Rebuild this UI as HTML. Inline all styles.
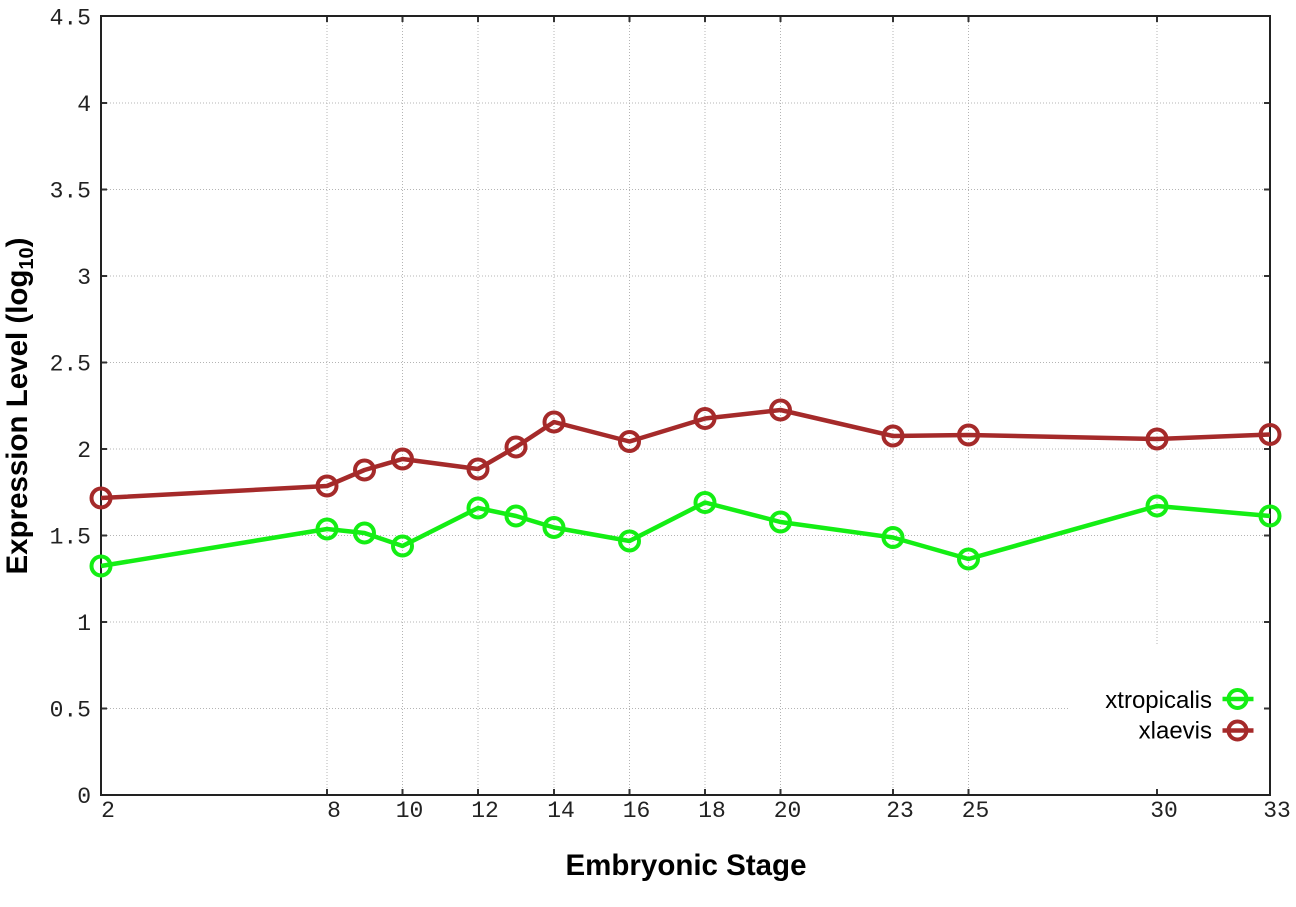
<!DOCTYPE html>
<html>
<head>
<meta charset="utf-8">
<style>
html,body{margin:0;padding:0;background:#fff;}
svg{display:block;}
.tk{font-family:"Liberation Mono","DejaVu Sans Mono",monospace;font-size:23px;fill:#222;}
.lab{font-family:"Liberation Sans",Arial,sans-serif;font-weight:bold;font-size:29.5px;fill:#000;}
.leg{font-family:"Liberation Sans",Arial,sans-serif;font-size:24px;fill:#000;}
</style>
</head>
<body>
<svg width="1296" height="907" viewBox="0 0 1296 907" xmlns="http://www.w3.org/2000/svg">
<rect x="0" y="0" width="1296" height="907" fill="#fff"/>
<!-- grid -->
<g stroke="#b4b4b4" stroke-width="1" stroke-dasharray="1,2" fill="none">
  <line x1="101" y1="708.5" x2="1270" y2="708.5"/>
  <line x1="101" y1="622" x2="1270" y2="622"/>
  <line x1="101" y1="535.5" x2="1270" y2="535.5"/>
  <line x1="101" y1="449" x2="1270" y2="449"/>
  <line x1="101" y1="362.5" x2="1270" y2="362.5"/>
  <line x1="101" y1="276" x2="1270" y2="276"/>
  <line x1="101" y1="189.5" x2="1270" y2="189.5"/>
  <line x1="101" y1="103" x2="1270" y2="103"/>
  <line x1="327" y1="16" x2="327" y2="795"/>
  <line x1="402.5" y1="16" x2="402.5" y2="795"/>
  <line x1="478" y1="16" x2="478" y2="795"/>
  <line x1="554" y1="16" x2="554" y2="795"/>
  <line x1="629.5" y1="16" x2="629.5" y2="795"/>
  <line x1="705" y1="16" x2="705" y2="795"/>
  <line x1="780.5" y1="16" x2="780.5" y2="795"/>
  <line x1="893" y1="16" x2="893" y2="795"/>
  <line x1="968.5" y1="16" x2="968.5" y2="795"/>
  <line x1="1157" y1="16" x2="1157" y2="795"/>
</g>
<!-- legend box background -->
<rect x="1070" y="645" width="200" height="150" fill="#fff"/>
<!-- ticks -->
<g stroke="#333" stroke-width="2">
  <line x1="101" y1="708.5" x2="107" y2="708.5"/><line x1="1270" y1="708.5" x2="1264" y2="708.5"/>
  <line x1="101" y1="622" x2="107" y2="622"/><line x1="1270" y1="622" x2="1264" y2="622"/>
  <line x1="101" y1="535.5" x2="107" y2="535.5"/><line x1="1270" y1="535.5" x2="1264" y2="535.5"/>
  <line x1="101" y1="449" x2="107" y2="449"/><line x1="1270" y1="449" x2="1264" y2="449"/>
  <line x1="101" y1="362.5" x2="107" y2="362.5"/><line x1="1270" y1="362.5" x2="1264" y2="362.5"/>
  <line x1="101" y1="276" x2="107" y2="276"/><line x1="1270" y1="276" x2="1264" y2="276"/>
  <line x1="101" y1="189.5" x2="107" y2="189.5"/><line x1="1270" y1="189.5" x2="1264" y2="189.5"/>
  <line x1="101" y1="103" x2="107" y2="103"/><line x1="1270" y1="103" x2="1264" y2="103"/>
  <line x1="327" y1="795" x2="327" y2="789"/><line x1="327" y1="16" x2="327" y2="22"/>
  <line x1="402.5" y1="795" x2="402.5" y2="789"/><line x1="402.5" y1="16" x2="402.5" y2="22"/>
  <line x1="478" y1="795" x2="478" y2="789"/><line x1="478" y1="16" x2="478" y2="22"/>
  <line x1="554" y1="795" x2="554" y2="789"/><line x1="554" y1="16" x2="554" y2="22"/>
  <line x1="629.5" y1="795" x2="629.5" y2="789"/><line x1="629.5" y1="16" x2="629.5" y2="22"/>
  <line x1="705" y1="795" x2="705" y2="789"/><line x1="705" y1="16" x2="705" y2="22"/>
  <line x1="780.5" y1="795" x2="780.5" y2="789"/><line x1="780.5" y1="16" x2="780.5" y2="22"/>
  <line x1="893" y1="795" x2="893" y2="789"/><line x1="893" y1="16" x2="893" y2="22"/>
  <line x1="968.5" y1="795" x2="968.5" y2="789"/><line x1="968.5" y1="16" x2="968.5" y2="22"/>
  <line x1="1157" y1="795" x2="1157" y2="789"/><line x1="1157" y1="16" x2="1157" y2="22"/>
</g>
<!-- border -->
<rect x="101" y="16" width="1169" height="779" fill="none" stroke="#222" stroke-width="2"/>
<!-- y tick labels -->
<g class="tk" text-anchor="end">
  <text x="91" y="803">0</text>
  <text x="91" y="716.5">0.5</text>
  <text x="91" y="630">1</text>
  <text x="91" y="543.5">1.5</text>
  <text x="91" y="457">2</text>
  <text x="91" y="370.5">2.5</text>
  <text x="91" y="284">3</text>
  <text x="91" y="197.5">3.5</text>
  <text x="91" y="111">4</text>
  <text x="91" y="24.5">4.5</text>
</g>
<!-- x tick labels -->
<g class="tk" text-anchor="middle">
  <text x="108" y="817">2</text>
  <text x="334" y="817">8</text>
  <text x="409.5" y="817">10</text>
  <text x="485" y="817">12</text>
  <text x="561" y="817">14</text>
  <text x="636.5" y="817">16</text>
  <text x="712" y="817">18</text>
  <text x="787.5" y="817">20</text>
  <text x="900" y="817">23</text>
  <text x="975.5" y="817">25</text>
  <text x="1164" y="817">30</text>
  <text x="1277" y="817">33</text>
</g>
<!-- axis labels -->
<text class="lab" x="686" y="875" text-anchor="middle">Embryonic Stage</text>
<text class="lab" transform="translate(27,406) rotate(-90)" text-anchor="middle">Expression Level (log<tspan font-size="20" dy="6">10</tspan><tspan dy="-6">)</tspan></text>
<!-- green series -->
<g stroke="#14ee14" fill="none" stroke-linejoin="round">
  <polyline stroke-width="4.5" points="101,566 327,529 364.5,533 402.5,546 478,508 516,516 554,527.5 629.5,541 705,502.5 780.5,522 893,537.5 968.5,559 1157,506 1270,516"/>
  <g stroke-width="4">
    <circle cx="101" cy="566" r="9.5"/>
    <circle cx="327" cy="529" r="9.5"/>
    <circle cx="364.5" cy="533" r="9.5"/>
    <circle cx="402.5" cy="546" r="9.5"/>
    <circle cx="478" cy="508" r="9.5"/>
    <circle cx="516" cy="516" r="9.5"/>
    <circle cx="554" cy="527.5" r="9.5"/>
    <circle cx="629.5" cy="541" r="9.5"/>
    <circle cx="705" cy="502.5" r="9.5"/>
    <circle cx="780.5" cy="522" r="9.5"/>
    <circle cx="893" cy="537.5" r="9.5"/>
    <circle cx="968.5" cy="559" r="9.5"/>
    <circle cx="1157" cy="506" r="9.5"/>
    <circle cx="1270" cy="516" r="9.5"/>
  </g>
</g>
<!-- red series -->
<g stroke="#a52a2a" fill="none" stroke-linejoin="round">
  <polyline stroke-width="4.5" points="101,498 327,486 364.5,470 402.5,459 478,469 516,447 554,422 629.5,441.5 705,418.5 780.5,410 893,436 968.5,435 1157,439 1270,434.5"/>
  <g stroke-width="4">
    <circle cx="101" cy="498" r="9.5"/>
    <circle cx="327" cy="486" r="9.5"/>
    <circle cx="364.5" cy="470" r="9.5"/>
    <circle cx="402.5" cy="459" r="9.5"/>
    <circle cx="478" cy="469" r="9.5"/>
    <circle cx="516" cy="447" r="9.5"/>
    <circle cx="554" cy="422" r="9.5"/>
    <circle cx="629.5" cy="441.5" r="9.5"/>
    <circle cx="705" cy="418.5" r="9.5"/>
    <circle cx="780.5" cy="410" r="9.5"/>
    <circle cx="893" cy="436" r="9.5"/>
    <circle cx="968.5" cy="435" r="9.5"/>
    <circle cx="1157" cy="439" r="9.5"/>
    <circle cx="1270" cy="434.5" r="9.5"/>
  </g>
</g>
<!-- legend -->
<text class="leg" x="1212" y="708" text-anchor="end">xtropicalis</text>
<text class="leg" x="1212" y="738.5" text-anchor="end">xlaevis</text>
<g fill="none">
  <line x1="1222.5" y1="699" x2="1253.5" y2="699" stroke="#14ee14" stroke-width="4.5"/>
  <circle cx="1237.5" cy="699" r="9" stroke="#14ee14" stroke-width="4"/>
  <line x1="1222.5" y1="730.5" x2="1253.5" y2="730.5" stroke="#a52a2a" stroke-width="4.5"/>
  <circle cx="1237.5" cy="730.5" r="9" stroke="#a52a2a" stroke-width="4"/>
</g>
</svg>
</body>
</html>
